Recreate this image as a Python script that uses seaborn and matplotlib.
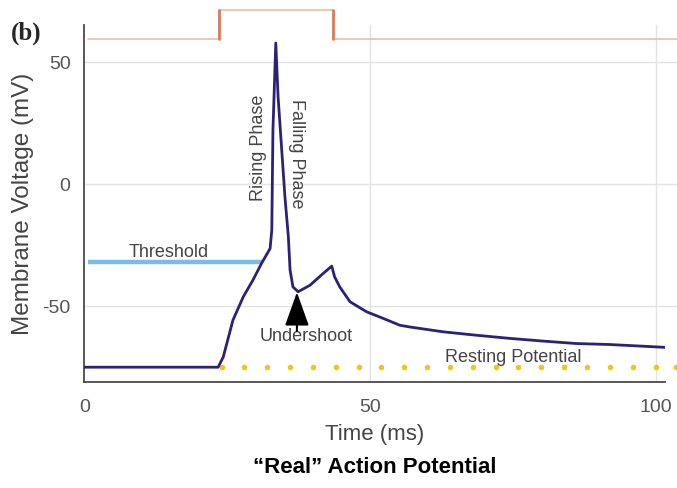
import numpy as np
import pandas as pd
import matplotlib
matplotlib.use("Agg")
import matplotlib.pyplot as plt
import seaborn as sns

# ---- data ----
time_ms = [0, 23.4, 24.3, 26.0, 27.8, 29.5, 31.0, 32.5, 32.8, 33.0, 33.5, 33.9,
           34.5, 35.1, 35.7, 36.0, 36.5, 37.4, 39.5, 41.8, 43.3, 43.8, 44.7,
           46.5, 49.4, 52.3, 55.2, 56.9, 62.8, 68.6, 74.5, 80.3, 86.1, 91.9,
           97.8, 101.9]
voltage_mv = [-75.0, -75.0, -70.8, -55.7, -46.2, -39.3, -32.5, -26.4, -18.9, 22.1,
              57.8, 35.8, 15.3, -5.2, -21.6, -35.2, -42.1, -44.1, -41.4, -36.6,
              -33.6, -38.0, -42.1, -48.2, -52.3, -55.0, -57.8, -58.5, -60.5,
              -61.9, -63.2, -64.3, -65.3, -65.7, -66.4, -66.9]

stim_t = [0.6, 23.5, 23.5, 43.5, 43.5, 103.7]
stim_v = [59.3, 59.3, 71.3, 71.3, 59.3, 59.3]

threshold_t = [0.6, 31.1]
threshold_v = -32.0
resting_v = -75.0
resting_dots_t = [24, 28, 32, 36, 40, 44, 48, 52, 56, 60, 64, 68, 72, 76, 80,
                  84, 88, 92, 96, 100, 103.5]

x_major = [0, 50, 100]
y_major = [-50, 0, 50]
y_labels = ["-50", "0", "50"]

# ---- style ----
sns.set_style("white")
plt.rcParams['font.family'] = ['Liberation Sans', 'DejaVu Sans']
plt.rcParams['axes.unicode_minus'] = False

fig = plt.figure(figsize=(6.77, 4.88), dpi=100)
ax = fig.add_axes([0.1248, 0.217, 0.857, 0.732])

gray = "#4a4a4a"
grid_c = "#e3e3e3"

# gridlines
for yv in y_major:
    ax.plot([0, 103.7], [yv, yv], color=grid_c, lw=1.0, zorder=0, clip_on=False)
for xv in [50, 100]:
    ax.axvline(xv, color=grid_c, lw=1.0, zorder=0)

# stimulus trace (top)
ax.plot(stim_t[:2], stim_v[:2], color="#e8bfa8", lw=1.2, clip_on=False, zorder=2)
ax.plot(stim_t[2:4], stim_v[2:4], color="#e8bfa8", lw=1.2, clip_on=False, zorder=2)
ax.plot(stim_t[4:], stim_v[4:], color="#e8bfa8", lw=1.2, clip_on=False, zorder=2)
ax.plot(stim_t[1:3], stim_v[1:3], color="#dc7a55", lw=2.0, clip_on=False, zorder=3)
ax.plot(stim_t[3:5], stim_v[3:5], color="#dc7a55", lw=2.0, clip_on=False, zorder=3)

# threshold
ax.plot(threshold_t, [threshold_v, threshold_v], color="#78bde3", lw=3.2,
        solid_capstyle="butt", zorder=3)

# resting potential dots
ax.scatter(resting_dots_t, [resting_v] * len(resting_dots_t), s=16, color="#f2c318",
           marker="o", linewidths=0, zorder=2, clip_on=False)

# action potential
df = pd.DataFrame({"t": time_ms, "v": voltage_mv})
sns.lineplot(data=df, x="t", y="v", ax=ax, color="#2b2277", lw=2.0, sort=False,
             zorder=4)

ax.set_xlim(0, 101.6)
ax.set_ylim(-81.1, 65.2)

ax.set_xticks(x_major)
ax.set_xticklabels([str(v) for v in x_major])
ax.set_xticks(np.arange(0, 101, 10), minor=True)
ax.set_yticks(y_major)
ax.set_yticklabels(y_labels)
ax.set_yticks(np.arange(-80, 61, 10), minor=True)

ax.tick_params(axis="x", which="both", direction="in", length=5, width=1,
               color=gray, labelsize=14, labelcolor="#555555", pad=12)
ax.tick_params(axis="y", which="both", direction="out", length=4, width=1,
               color=gray, labelsize=14, labelcolor="#555555", pad=6)

for s in ["top", "right"]:
    ax.spines[s].set_visible(False)
for s in ["left", "bottom"]:
    ax.spines[s].set_color(gray)
    ax.spines[s].set_linewidth(1.3)

ax.set_xlabel("Time (ms)", fontsize=16, color="#444444", labelpad=6)
ax.set_ylabel("Membrane Voltage (mV)", fontsize=17.5, color="#444444", labelpad=6)

# annotations
txt_c = "#444444"
ax.text(14.7, -28.0, "Threshold", fontsize=13, color=txt_c, ha="center", va="center")
ax.text(30.4, 15.0, "Rising Phase", fontsize=13, color=txt_c, ha="center",
        va="center", rotation=90)
ax.text(37.2, 12.5, "Falling Phase", fontsize=13, color=txt_c, ha="center",
        va="center", rotation=-90)
ax.text(38.9, -62.5, "Undershoot", fontsize=13, color=txt_c, ha="center", va="center")
ax.text(75.0, -71.0, "Resting Potential", fontsize=13, color=txt_c, ha="center",
        va="center")
ax.annotate("", xy=(37.2, -44.3), xytext=(37.2, -60.2),
            arrowprops=dict(arrowstyle="-|>,head_length=2.1,head_width=0.75",
                            color="black", lw=1.5, shrinkA=0, shrinkB=0), zorder=5)

fig.text(0.016, 0.932, "(b)", fontsize=18, fontweight="bold",
         family=["Liberation Serif", "DejaVu Serif"], ha="left", va="center")
fig.text(0.553, 0.043, "\u201cReal\u201d Action Potential", fontsize=16,
         fontweight="bold", color="black", ha="center", va="center")

fig.savefig("out.png", dpi=100)
